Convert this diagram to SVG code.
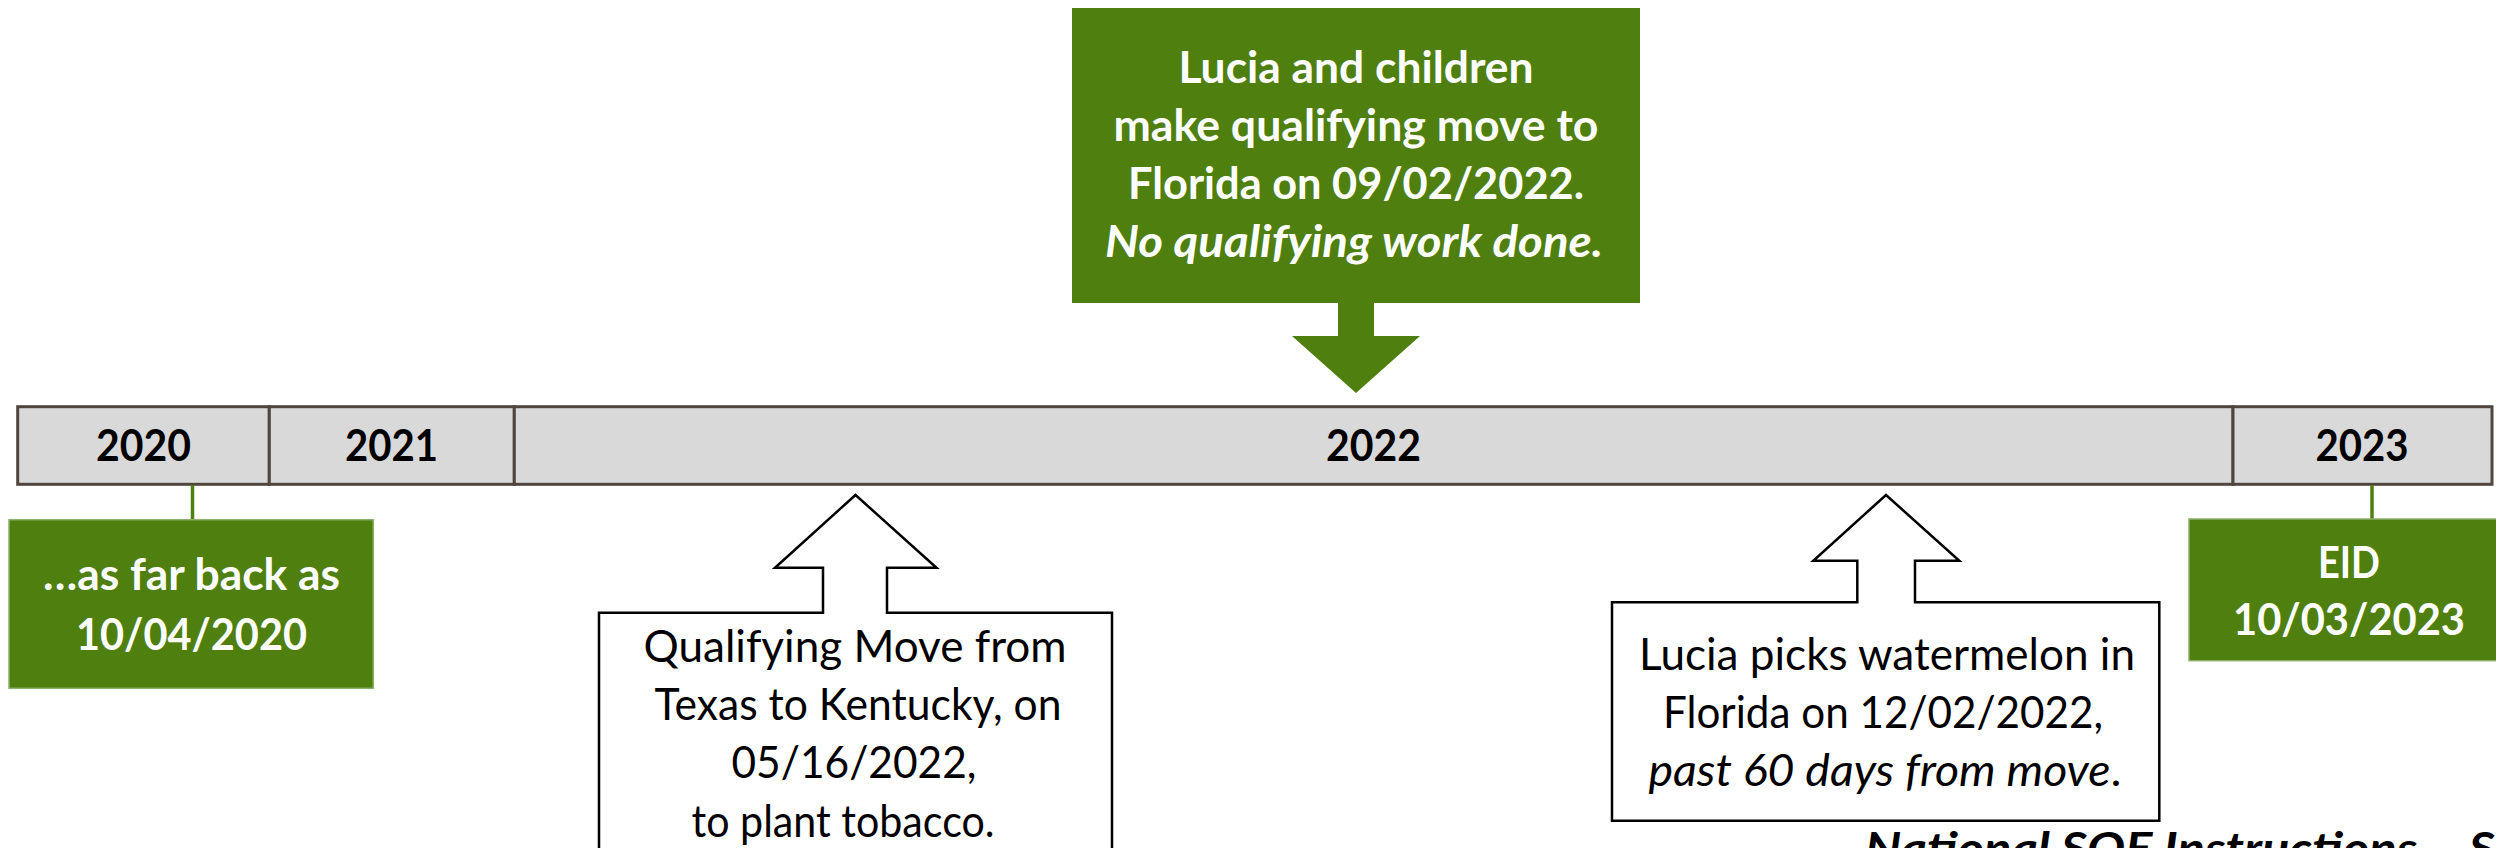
<svg xmlns="http://www.w3.org/2000/svg" width="2496" height="848" viewBox="0 0 2496 848">
<style>
.t{font-family:Lato,"Open Sans","Liberation Sans",sans-serif;font-size:44px;text-anchor:middle}
.b{font-weight:bold}
.i{font-style:italic}
.w{fill:#ffffff}
.k{fill:#000000}
.cell{fill:#D9D9D9;stroke:#51463D;stroke-width:3}
.green{fill:#4F7F0F;stroke:#8DB06A;stroke-width:1.5}
.callout{fill:#ffffff;stroke:#000000;stroke-width:2.5;stroke-linejoin:miter}
.conn{stroke:#4F7F0F;stroke-width:3.5;fill:none}
</style>
<rect width="2496" height="848" fill="#ffffff"/>
<g id="timeline">
  <g id="y2020"><rect class="cell" x="17.7" y="406.7" width="251.6" height="77.6"/><text class="t b k" x="143.5" y="460.7" textLength="95" lengthAdjust="spacingAndGlyphs">2020</text></g>
  <g id="y2021"><rect class="cell" x="269.3" y="406.7" width="245" height="77.6"/><text class="t b k" x="391.5" y="460.7" textLength="93" lengthAdjust="spacingAndGlyphs">2021</text></g>
  <g id="y2022"><rect class="cell" x="514.3" y="406.7" width="1718.7" height="77.6"/><text class="t b k" x="1373.5" y="460.7" textLength="95" lengthAdjust="spacingAndGlyphs">2022</text></g>
  <g id="y2023"><rect class="cell" x="2233" y="406.7" width="259" height="77.6"/><text class="t b k" x="2362" y="460.7" textLength="93" lengthAdjust="spacingAndGlyphs">2023</text></g>
</g>
<g id="connectors">
  <line class="conn" x1="192.5" y1="485" x2="192.5" y2="520"/>
  <line class="conn" x1="2372" y1="485" x2="2372" y2="519"/>
</g>
<g id="farback">
  <rect class="green" x="9" y="519.7" width="364.3" height="168.6"/>
  <text class="t b w" x="191.5" y="590" textLength="297" lengthAdjust="spacingAndGlyphs">…as far back as</text>
  <text class="t b w" x="191.5" y="650" textLength="231" lengthAdjust="spacingAndGlyphs">10/04/2020</text>
</g>
<g id="eid">
  <rect class="green" x="2189" y="519" width="320" height="141.7"/>
  <text class="t b w" x="2349" y="578" textLength="62" lengthAdjust="spacingAndGlyphs">EID</text>
  <text class="t b w" x="2349" y="635" textLength="232" lengthAdjust="spacingAndGlyphs">10/03/2023</text>
</g>
<g id="floridamove">
  <path fill="#4F7F0F" d="M1072,8 H1640 V303 H1374 V336 H1420 L1356,393 L1292,336 H1338 V303 H1072 Z"/>
  <text class="t b w" x="1356" y="83" textLength="355" lengthAdjust="spacingAndGlyphs">Lucia and children</text>
  <text class="t b w" x="1356" y="141" textLength="485" lengthAdjust="spacingAndGlyphs">make qualifying move to</text>
  <text class="t b w" x="1356" y="199" textLength="456" lengthAdjust="spacingAndGlyphs">Florida on 09/02/2022.</text>
  <text class="t b i w" x="1354" y="257" textLength="498" lengthAdjust="spacingAndGlyphs">No qualifying work done.</text>
</g>
<g id="kentuckymove">
  <path class="callout" d="M599,612.7 H823 V567.7 H775 L855.5,495 L936.5,567.7 H887 V612.7 H1112 V870 H599 Z"/>
  <text class="t k" x="855" y="662" textLength="423" lengthAdjust="spacingAndGlyphs">Qualifying Move from</text>
  <text class="t k" x="858" y="720" textLength="407" lengthAdjust="spacingAndGlyphs">Texas to Kentucky, on</text>
  <text class="t k" x="854" y="778" textLength="245" lengthAdjust="spacingAndGlyphs">05/16/2022,</text>
  <text class="t k" x="843" y="837" textLength="303" lengthAdjust="spacingAndGlyphs">to plant tobacco.</text>
</g>
<g id="watermelon">
  <path class="callout" d="M1612,602.3 H1857.3 V560.7 H1813.3 L1886,495 L1959.3,560.7 H1915 V602.3 H2159.3 V820.7 H1612 Z"/>
  <text class="t k" x="1887" y="670" textLength="496" lengthAdjust="spacingAndGlyphs">Lucia picks watermelon in</text>
  <text class="t k" x="1883" y="728" textLength="440" lengthAdjust="spacingAndGlyphs">Florida on 12/02/2022,</text>
  <text class="t k" x="1885" y="786" textLength="473" lengthAdjust="spacingAndGlyphs"><tspan class="i">past 60 days from move</tspan>.</text>
</g>
<text class="b i k" x="1865" y="864" font-family="Lato,'Open Sans','Liberation Sans',sans-serif" font-size="44" textLength="630" lengthAdjust="spacingAndGlyphs">National SOE Instructions – S</text>
</svg>
